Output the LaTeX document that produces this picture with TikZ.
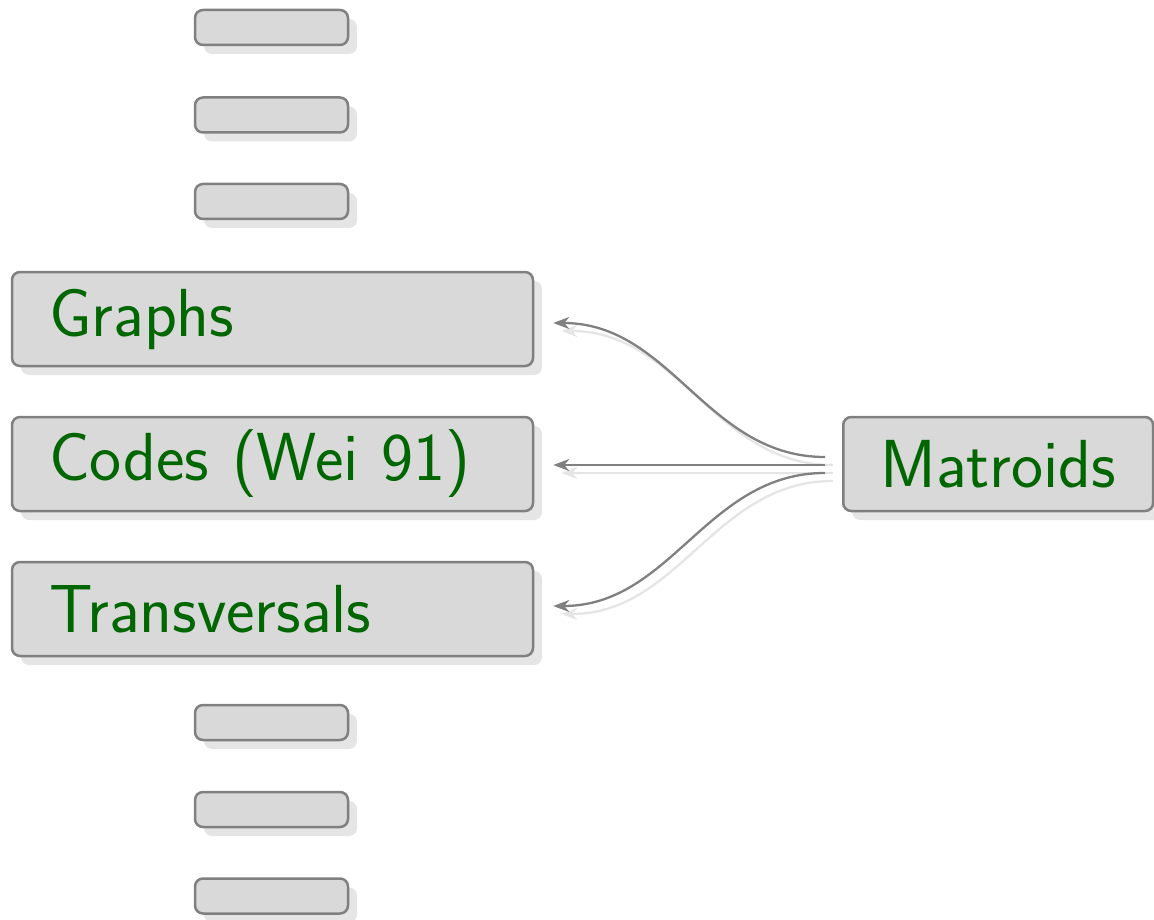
\documentclass[tikz,border=0pt]{standalone}
\usetikzlibrary{arrows.meta,shadows}
\definecolor{boxfill}{gray}{0.85}
\definecolor{boxline}{gray}{0.5}
\definecolor{shadowc}{gray}{0.9}
\definecolor{textgreen}{rgb}{0,0.4,0}
\tikzset{
  card/.style={draw=boxline, fill=boxfill, line width=2.5pt, rounded corners=8pt,
    drop shadow={shadow xshift=9pt, shadow yshift=-9pt, fill=shadowc, opacity=1}},
  stub/.style={card, minimum width=153pt, minimum height=35pt, inner sep=0pt},
  topic/.style={card, minimum height=94pt, inner xsep=37pt, inner ysep=0pt,
    font=\sffamily\fontsize{68}{72}\selectfont, text=textgreen},
  wide/.style={topic, text width=447pt, align=left},
  tip/.style={-{Stealth[length=16pt,width=12pt,inset=5pt]}},
  link/.style={draw=boxline, line width=2.3pt, tip},
  linkshadow/.style={draw=shadowc, line width=2.3pt, tip,
    transform canvas={xshift=8pt,yshift=-8pt}}
}
\begin{document}
\begin{tikzpicture}[x=1pt,y=-1pt]
  \useasboundingbox (0,0) rectangle (1154,920);
  % empty placeholder cards above and below
  \node[stub] (s1) at (271.5,27.5) {};
  \node[stub] (s2) at (271.5,115) {};
  \node[stub] (s3) at (271.5,201.5) {};
  \node[stub] (s4) at (271.5,722.5) {};
  \node[stub] (s5) at (271.5,809.5) {};
  \node[stub] (s6) at (271.5,896) {};
  % the three application cards
  \node[wide] (g) at (272.5,319) {Graphs};
  \node[wide] (c) at (272.5,464) {Codes (Wei 91)};
  \node[wide] (t) at (272.5,609) {Transversals};
  % source card
  \node[topic, anchor=west] (m) at (842,464) {Matroids};
  % soft shadows of the links
  \draw[linkshadow] ([xshift=-17pt,yshift=7pt]m.west) to[out=180,in=0] ([xshift=19pt,yshift=-4pt]g.east);
  \draw[linkshadow] ([xshift=-17pt,yshift=-1pt]m.west) -- ([xshift=19pt,yshift=-1pt]c.east);
  \draw[linkshadow] ([xshift=-17pt,yshift=-9pt]m.west) to[out=180,in=0] ([xshift=19pt,yshift=3pt]t.east);
  % links
  \draw[link] ([xshift=-17pt,yshift=7pt]m.west) to[out=180,in=0] ([xshift=19pt,yshift=-4pt]g.east);
  \draw[link] ([xshift=-17pt,yshift=-1pt]m.west) -- ([xshift=19pt,yshift=-1pt]c.east);
  \draw[link] ([xshift=-17pt,yshift=-9pt]m.west) to[out=180,in=0] ([xshift=19pt,yshift=3pt]t.east);
\end{tikzpicture}
\end{document}
